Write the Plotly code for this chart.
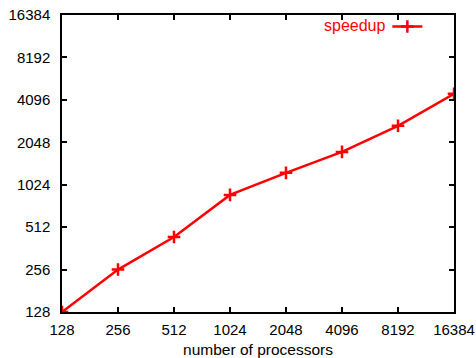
import plotly.graph_objects as go

processors = [128, 256, 512, 1024, 2048, 4096, 8192, 16384]
speedup = [128, 256, 436, 867, 1243, 1750, 2680, 4520]
tick_vals = [128, 256, 512, 1024, 2048, 4096, 8192, 16384]
tick_text = [str(v) for v in tick_vals]

FONT = "Liberation Sans, Arial, sans-serif"

fig = go.Figure()
fig.add_trace(go.Scatter(
    x=processors, y=speedup, mode="lines+markers", name="",
    line=dict(color="#ff0000", width=2.5),
    marker=dict(symbol="cross-thin", size=9, line=dict(color="#ff0000", width=2.5)),
    showlegend=True,
))

axis_common = dict(
    type="log", showgrid=False, zeroline=False, automargin=False,
    showline=True, linecolor="black", linewidth=1.5, mirror="allticks",
    ticks="inside", ticklen=5, tickwidth=1.5, tickcolor="black",
    tickvals=tick_vals, ticktext=tick_text, ticklabeloverflow="allow",
    tickfont=dict(family=FONT, size=15, color="black"),
    range=[2.10721, 4.21442],
)
fig.update_xaxes(**axis_common, ticklabelstandoff=3,
                 title=dict(text="number of processors", standoff=10,
                            font=dict(family=FONT, size=15.5, color="black")))
fig.update_yaxes(**axis_common, ticklabelstandoff=7)

fig.add_annotation(text="speedup", xref="paper", yref="paper", x=0.83, y=0.965,
                   xanchor="right", yanchor="middle", showarrow=False,
                   font=dict(family=FONT, size=16, color="#ff0000"))

fig.update_layout(
    width=476, height=358,
    margin=dict(l=62, r=22, t=15, b=46, autoexpand=False),
    paper_bgcolor="white", plot_bgcolor="white",
    legend=dict(x=0.83, y=0.96, xanchor="left", yanchor="middle", bgcolor="rgba(0,0,0,0)",
                font=dict(size=14), itemwidth=30),
)
fig.write_html("out.html", config={"displayModeBar": False},
               post_script="document.body.style.margin='0';")
